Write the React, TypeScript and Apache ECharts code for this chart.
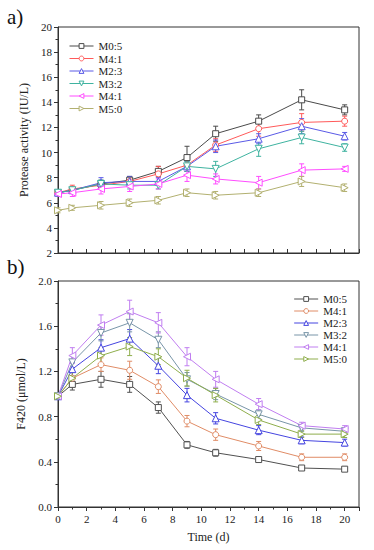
import React, { useEffect, useRef } from "react";
import * as echarts from "echarts";

const days = [0, 1, 3, 5, 7, 9, 11, 14, 17, 20];

const labelsTop = ["M0:5", "M4:1", "M2:3", "M3:2", "M4:1", "M5:0"];
const labelsBottom = ["M0:5", "M4:1", "M2:3", "M3:2", "M4:1", "M5:0"];

// Protease activity (IU/L)
const protM05 = [6.8, 7.0, 7.5, 7.8, 8.5, 9.6, 11.5, 12.5, 14.2, 13.4];
const protM41 = [6.8, 7.1, 7.4, 7.7, 8.3, 9.0, 10.6, 11.9, 12.4, 12.5];
const protM23 = [6.8, 7.0, 7.6, 7.7, 7.7, 8.9, 10.5, 11.1, 12.1, 11.3];
const protM32 = [6.8, 7.0, 7.5, 7.4, 7.4, 8.9, 8.7, 10.3, 11.2, 10.4];
const protM41b = [6.7, 6.8, 7.1, 7.3, 7.5, 8.2, 7.9, 7.6, 8.6, 8.7];
const protM50 = [5.4, 5.6, 5.8, 6.0, 6.2, 6.8, 6.6, 6.8, 7.7, 7.2];

const protErrM05 = [0.2, 0.2, 0.3, 0.3, 0.4, 0.9, 0.6, 0.5, 0.8, 0.4];
const protErrM41 = [0.2, 0.3, 0.3, 0.3, 0.6, 0.5, 0.5, 0.6, 0.7, 0.4];
const protErrM23 = [0.2, 0.2, 0.4, 0.4, 0.3, 0.4, 0.5, 0.4, 0.6, 0.3];
const protErrM32 = [0.2, 0.2, 0.3, 0.3, 0.3, 0.4, 0.6, 0.6, 0.5, 0.3];
const protErrM41b = [0.2, 0.3, 0.4, 0.4, 0.4, 0.5, 0.4, 0.5, 0.5, 0.2];
const protErrM50 = [0.2, 0.2, 0.3, 0.3, 0.3, 0.3, 0.3, 0.3, 0.4, 0.3];

// F420 (umol/L)
const f420M05 = [0.98, 1.085, 1.13, 1.085, 0.88, 0.55, 0.48, 0.42, 0.345, 0.335];
const f420M41 = [0.98, 1.14, 1.26, 1.21, 1.065, 0.76, 0.64, 0.54, 0.44, 0.44];
const f420M23 = [0.98, 1.22, 1.41, 1.49, 1.25, 0.99, 0.785, 0.68, 0.59, 0.57];
const f420M32 = [0.98, 1.28, 1.54, 1.63, 1.48, 1.13, 1.0, 0.82, 0.7, 0.67];
const f420M41b = [0.98, 1.34, 1.61, 1.73, 1.63, 1.33, 1.13, 0.91, 0.72, 0.69];
const f420M50 = [0.98, 1.14, 1.34, 1.42, 1.33, 1.14, 0.99, 0.77, 0.645, 0.645];

const f420ErrM05 = [0.02, 0.05, 0.07, 0.07, 0.05, 0.03, 0.03, 0.02, 0.02, 0.02];
const f420ErrM41 = [0.02, 0.05, 0.06, 0.08, 0.06, 0.05, 0.05, 0.04, 0.03, 0.03];
const f420ErrM23 = [0.02, 0.06, 0.07, 0.08, 0.07, 0.06, 0.05, 0.04, 0.03, 0.03];
const f420ErrM32 = [0.02, 0.06, 0.07, 0.08, 0.07, 0.06, 0.05, 0.04, 0.03, 0.03];
const f420ErrM41b = [0.02, 0.07, 0.09, 0.1, 0.09, 0.08, 0.07, 0.05, 0.03, 0.03];
const f420ErrM50 = [0.02, 0.05, 0.07, 0.08, 0.07, 0.07, 0.06, 0.04, 0.03, 0.03];

const colorsTop = ["#4a4a4a", "#ff5a5a", "#5a5ae6", "#3fb3a0", "#ff4cff", "#b2b070"];
const colorsBottom = ["#505050", "#e08c66", "#4545e0", "#7895a8", "#c07ef0", "#8fae4c"];

const symbols = ["rect", "circle", "triangle", "triangle", "triangle", "triangle"];
const rotations = [0, 0, 0, 180, 90, -90];
const sizes = [6, 6, 7, 7, 7, 7];

const FONT = "Liberation Serif";

export default function App() {
  const ref = useRef<HTMLDivElement>(null);

  useEffect(() => {
    if (!ref.current) return;
    const chart = echarts.init(ref.current, undefined, { renderer: "svg" });

    const topVals = [protM05, protM41, protM23, protM32, protM41b, protM50];
    const topErrs = [protErrM05, protErrM41, protErrM23, protErrM32, protErrM41b, protErrM50];
    const botVals = [f420M05, f420M41, f420M23, f420M32, f420M41b, f420M50];
    const botErrs = [f420ErrM05, f420ErrM41, f420ErrM23, f420ErrM32, f420ErrM41b, f420ErrM50];

    const nameMap: Record<string, string> = {};
    const topNames = labelsTop.map((l, i) => {
      const k = "top" + i;
      nameMap[k] = l;
      return k;
    });
    const botNames = labelsBottom.map((l, i) => {
      const k = "bot" + i;
      nameMap[k] = l;
      return k;
    });

    const errSeries = (
      vals: number[],
      errs: number[],
      color: string,
      axisIndex: number,
      cap: number
    ) => ({
      type: "custom",
      xAxisIndex: axisIndex,
      yAxisIndex: axisIndex,
      silent: true,
      z: 1,
      data: days.map((d, j) => [d, vals[j], errs[j]]),
      encode: { x: 0, y: 1 },
      renderItem: (params: any, api: any) => {
        const x = api.value(0);
        const y = api.value(1);
        const e = api.value(2);
        const lo = api.coord([x, y - e]);
        const hi = api.coord([x, y + e]);
        const st = { stroke: color, lineWidth: 1 };
        return {
          type: "group",
          children: [
            { type: "line", shape: { x1: lo[0], y1: lo[1], x2: hi[0], y2: hi[1] }, style: st },
            { type: "line", shape: { x1: lo[0] - cap, y1: lo[1], x2: lo[0] + cap, y2: lo[1] }, style: st },
            { type: "line", shape: { x1: hi[0] - cap, y1: hi[1], x2: hi[0] + cap, y2: hi[1] }, style: st },
          ],
        };
      },
    });

    const lineSeries = (
      name: string,
      vals: number[],
      i: number,
      color: string,
      axisIndex: number
    ) => ({
      type: "line",
      name,
      xAxisIndex: axisIndex,
      yAxisIndex: axisIndex,
      data: days.map((d, j) => [d, vals[j]]),
      symbol: symbols[i],
      symbolRotate: rotations[i],
      symbolSize: sizes[i],
      showAllSymbol: true,
      z: 3,
      lineStyle: { color, width: 1 },
      itemStyle: { color: "#ffffff", borderColor: color, borderWidth: 1 },
    });

    const series: any[] = [];
    topVals.forEach((v, i) => {
      series.push(errSeries(v, topErrs[i], colorsTop[i], 0, 2.5));
      series.push(lineSeries(topNames[i], v, i, colorsTop[i], 0));
    });
    botVals.forEach((v, i) => {
      series.push(errSeries(v, botErrs[i], colorsBottom[i], 1, 2.5));
      series.push(lineSeries(botNames[i], v, i, colorsBottom[i], 1));
    });

    const axisLineStyle = { lineStyle: { color: "#333", width: 1 } };
    const tickLabel = { fontFamily: FONT, fontSize: 11, color: "#222" };
    const legendText = { fontFamily: FONT, fontSize: 11, color: "#222", lineHeight: 12 };

    const legendData = (names: string[], colors: string[]) =>
      names.map((n, i) => ({
        name: n,
        itemStyle: { color: "#ffffff", borderColor: colors[i], borderWidth: 1 },
        lineStyle: { color: colors[i], width: 1 },
      }));

    chart.setOption({
      animation: false,
      backgroundColor: "#ffffff",
      textStyle: { fontFamily: FONT },
      grid: [
        { left: 58, top: 27, width: 301, height: 226, show: true, borderColor: "#333", borderWidth: 1, backgroundColor: "transparent" },
        { left: 58, top: 281, width: 301, height: 226, show: true, borderColor: "#333", borderWidth: 1, backgroundColor: "transparent" },
      ],
      xAxis: [
        {
          type: "value",
          gridIndex: 0,
          min: 0,
          max: 21,
          interval: 2,
          axisLine: axisLineStyle,
          axisTick: { show: true, inside: true, length: 4, lineStyle: { color: "#333" } },
          minorTick: { show: true, splitNumber: 2, length: 4, lineStyle: { color: "#333" } },
          axisLabel: { show: false },
          splitLine: { show: false },
        },
        {
          type: "value",
          gridIndex: 1,
          min: 0,
          max: 21,
          interval: 2,
          name: "Time (d)",
          nameLocation: "middle",
          nameGap: 24,
          nameTextStyle: { fontFamily: FONT, fontSize: 12, color: "#222" },
          axisLine: axisLineStyle,
          axisTick: { show: true, length: 4, lineStyle: { color: "#333" } },
          minorTick: { show: true, splitNumber: 2, length: 2.5, lineStyle: { color: "#333" } },
          axisLabel: { ...tickLabel, showMaxLabel: false, margin: 6 },
          splitLine: { show: false },
        },
      ],
      yAxis: [
        {
          type: "value",
          gridIndex: 0,
          min: 2,
          max: 20,
          interval: 2,
          name: "Protease activity (IU/L)",
          nameLocation: "middle",
          nameGap: 20,
          nameTextStyle: { fontFamily: FONT, fontSize: 12, color: "#222" },
          axisLine: { show: true, ...axisLineStyle },
          axisTick: { show: true, length: 4, lineStyle: { color: "#333" } },
          minorTick: { show: true, splitNumber: 2, length: 2.5, lineStyle: { color: "#333" } },
          axisLabel: { ...tickLabel, margin: 6 },
          splitLine: { show: false },
        },
        {
          type: "value",
          gridIndex: 1,
          min: 0,
          max: 2,
          interval: 0.4,
          name: "F420 (μmol/L)",
          nameLocation: "middle",
          nameGap: 27,
          nameTextStyle: { fontFamily: FONT, fontSize: 12, color: "#222" },
          axisLine: { show: true, ...axisLineStyle },
          axisTick: { show: true, length: 4, lineStyle: { color: "#333" } },
          minorTick: { show: true, splitNumber: 2, length: 2.5, lineStyle: { color: "#333" } },
          axisLabel: { ...tickLabel, margin: 6, formatter: (v: number) => v.toFixed(1) },
          splitLine: { show: false },
        },
      ],
      legend: [
        {
          data: legendData(topNames, colorsTop),
          orient: "vertical",
          left: 64,
          top: 35,
          itemGap: 0.5,
          itemWidth: 24,
          itemHeight: 6,
          formatter: (n: string) => nameMap[n],
          textStyle: legendText,
        },
        {
          data: legendData(botNames, colorsBottom),
          orient: "vertical",
          right: 22,
          top: 288,
          itemGap: 0,
          itemWidth: 24,
          itemHeight: 6,
          formatter: (n: string) => nameMap[n],
          textStyle: legendText,
        },
      ],
      graphic: [
        { type: "text", left: 7, top: 6, style: { text: "a)", fontFamily: FONT, fontSize: 21, fill: "#111" } },
        { type: "text", left: 7, top: 256, style: { text: "b)", fontFamily: FONT, fontSize: 21, fill: "#111" } },
      ],
      series,
    });

    return () => chart.dispose();
  }, []);

  return (
    <div
      ref={ref}
      style={{ position: "fixed", left: 0, top: 0, width: 374, height: 550, background: "#fff" }}
    />
  );
}
